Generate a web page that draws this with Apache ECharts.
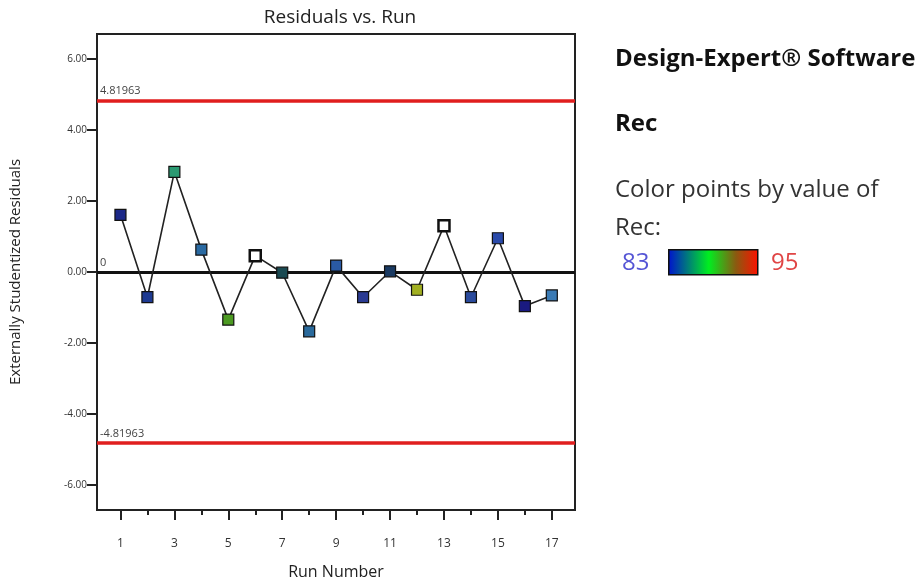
<!DOCTYPE html>
<html>
<head>
<meta charset="utf-8">
<script src="https://cdn.jsdelivr.net/npm/echarts@6/dist/echarts.min.js"></script>
<style>
html, body { margin: 0; padding: 0; background: #fff; }
#main { width: 922px; height: 585px; }
</style>
</head>
<body>
<div id="main"></div>
<script>
// data
var runs = [1, 2, 3, 4, 5, 6, 7, 8, 9, 10, 11, 12, 13, 14, 15, 16, 17];
var residuals = [1.61, -0.71, 2.82, 0.63, -1.34, 0.46, -0.02, -1.67, 0.18, -0.71, 0.02, -0.50, 1.30, -0.71, 0.95, -0.96, -0.66];
var limitValue = 4.81963;
var yTicks = [-6, -4, -2, 0, 2, 4, 6];
var xLabelTicks = [1, 3, 5, 7, 9, 11, 13, 15, 17];
var xMinorTicks = [2, 4, 6, 8, 10, 12, 14, 16];
var recMin = 83, recMax = 95;

// point colours (by Rec value)
var pointColors = ['#1c2888', '#1e3a92', '#2b9a72', '#2a6aa2', '#4c9a22', '#ffffff', '#1a4a52', '#2a6a9c',
    '#2a5aa4', '#2a3a92', '#1a3a62', '#a2b022', '#ffffff', '#2a4a9c', '#2a4aaa', '#1a1a80', '#3a7ab4'];

var chartDom = document.getElementById('main');
var myChart = echarts.init(chartDom);
var font = '"Open Sans", "Noto Sans", sans-serif';

var points = runs.map(function (r, i) {
    var white = pointColors[i] === '#ffffff';
    return {
        value: [r, residuals[i]],
        itemStyle: {
            color: pointColors[i],
            borderColor: '#111',
            borderWidth: white ? 2.5 : 1.2
        }
    };
});

var option = {
    backgroundColor: '#fff',
    animation: false,
    title: {
        text: 'Residuals vs. Run',
        left: 335,
        textAlign: 'center',
        top: 3,
        textStyle: { fontFamily: font, fontSize: 19, fontWeight: 'normal', color: '#222' }
    },
    grid: {
        left: 95,
        right: 347,
        top: 34,
        bottom: 68,
        show: true,
        borderColor: '#222',
        borderWidth: 2
    },
    xAxis: [{
        type: 'value',
        min: 0.13,
        max: 17.86,
        name: 'Run Number',
        nameLocation: 'middle',
        nameGap: 54,
        nameTextStyle: { fontFamily: font, fontSize: 16, color: '#222' },
        splitLine: { show: false },
        axisLine: { show: true, onZero: false, lineStyle: { color: '#222', width: 2 } },
        axisTick: { show: true, customValues: xLabelTicks, length: 10, lineStyle: { color: '#222', width: 2 } },
        axisLabel: {
            customValues: xLabelTicks,
            margin: 28,
            fontFamily: font, fontSize: 12, color: '#333'
        }
    }, {
        type: 'value',
        position: 'bottom',
        min: 0.13,
        max: 17.86,
        splitLine: { show: false },
        axisLine: { show: false, onZero: false },
        axisTick: { show: true, customValues: xMinorTicks, length: 5, lineStyle: { color: '#222', width: 2 } },
        axisLabel: { show: false }
    }],
    yAxis: {
        type: 'value',
        min: -6.7,
        max: 6.7,
        name: 'Externally Studentized Residuals',
        nameLocation: 'middle',
        nameGap: 74,
        nameTextStyle: { fontFamily: font, fontSize: 15, color: '#222' },
        splitLine: { show: false },
        axisLine: { show: true, onZero: false, lineStyle: { color: '#222', width: 2 } },
        axisTick: { show: true, customValues: yTicks, length: 10, lineStyle: { color: '#222', width: 2 } },
        axisLabel: {
            customValues: yTicks,
            margin: 10,
            fontFamily: font, fontSize: 10, color: '#333',
            formatter: function (v) { return v.toFixed(2); }
        }
    },
    series: [{
        type: 'line',
        data: points,
        symbol: 'rect',
        symbolSize: 11,
        lineStyle: { color: '#222', width: 1.6 },
        z: 5,
        markLine: {
            silent: true,
            symbol: 'none',
            animation: false,
            data: [
                { yAxis: limitValue, lineStyle: { color: '#e01e1e', width: 3.5, type: 'solid' },
                  label: { formatter: String(limitValue) } },
                { yAxis: -limitValue, lineStyle: { color: '#e01e1e', width: 3.5, type: 'solid' },
                  label: { formatter: String(-limitValue) } },
                { yAxis: 0, lineStyle: { color: '#111', width: 3, type: 'solid' },
                  label: { formatter: '0' } }
            ],
            label: {
                position: 'insideStartTop',
                distance: [3, 4],
                fontFamily: font, fontSize: 11, color: '#444'
            }
        }
    }],
    graphic: [
        { type: 'text', left: 615, top: 47, style: { text: 'Design-Expert® Software', font: 'bold 24px ' + font, fill: '#111' } },
        { type: 'text', left: 615, top: 112, style: { text: 'Rec', font: 'bold 24px ' + font, fill: '#111' } },
        { type: 'text', left: 615, top: 178, style: { text: 'Color points by value of', font: '24px ' + font, fill: '#333' } },
        { type: 'text', left: 615, top: 216, style: { text: 'Rec:', font: '24px ' + font, fill: '#333' } },
        { type: 'text', left: 622, top: 251, style: { text: String(recMin), font: '24px ' + font, fill: '#5555d5' } },
        {
            type: 'rect', left: 668, top: 249,
            shape: { width: 89, height: 25 },
            style: {
                fill: new echarts.graphic.LinearGradient(0, 0, 1, 0, [
                    { offset: 0, color: '#0010d0' },
                    { offset: 0.45, color: '#00ee20' },
                    { offset: 0.75, color: '#8a5a10' },
                    { offset: 1, color: '#ff1000' }
                ]),
                stroke: '#111',
                lineWidth: 1.5
            }
        },
        { type: 'text', left: 771, top: 251, style: { text: String(recMax), font: '24px ' + font, fill: '#e04545' } }
    ]
};

myChart.setOption(option);
</script>
</body>
</html>
